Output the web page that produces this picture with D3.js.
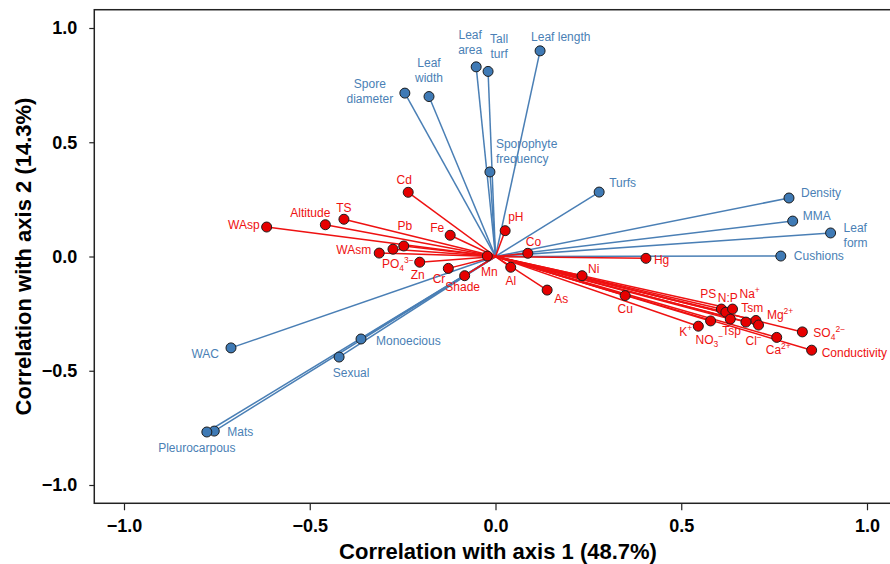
<!DOCTYPE html>
<html>
<head>
<meta charset="utf-8">
<script src="https://cdn.jsdelivr.net/npm/d3@7"></script>
<style>
  body { margin: 0; background: #fff; }
  svg { font-family: "Liberation Sans", Arial, sans-serif; }
</style>
</head>
<body>
<div id="chart"></div>
<script>
// Species traits (blue vectors)
const traitNames = ["Leaf length", "Tall\nturf", "Leaf\narea", "Leaf\nwidth", "Spore\ndiameter",
    "Sporophyte\nfrequency", "Turfs", "Density", "MMA", "Leaf\nform", "Cushions",
    "WAC", "Monoecious", "Sexual", "Mats", "Pleurocarpous"];
const traitX = [0.120, -0.020, -0.052, -0.179, -0.244, -0.015, 0.279, 0.790, 0.800, 0.902, 0.768,
    -0.712, -0.362, -0.421, -0.757, -0.777];
const traitY = [0.900, 0.810, 0.830, 0.700, 0.715, 0.370, 0.282, 0.256, 0.155, 0.103, 0.002,
    -0.400, -0.361, -0.440, -0.764, -0.768];

// Environmental variables (red vectors)
const envNames = ["Cd", "TS", "Altitude", "WAsp", "Pb", "Fe", "WAsm", "PO_4^3−", "Zn", "Cr",
    "Shade", "Mn", "Al", "pH", "Co", "Hg", "Ni", "As", "Cu", "PS", "N:P", "Na^+", "Tsm",
    "Mg^2+", "Tsp", "Cl^−", "K^+", "NO_3^−", "Ca^2+", "SO_4^2−", "Conductivity"];
const envX = [-0.235, -0.408, -0.458, -0.616, -0.247, -0.122, -0.313, -0.276, -0.204, -0.127,
    -0.083, -0.022, 0.041, 0.026, 0.087, 0.405, 0.233, 0.139, 0.349, 0.608, 0.620, 0.638, 0.632,
    0.701, 0.674, 0.708, 0.546, 0.579, 0.757, 0.826, 0.851];
const envY = [0.281, 0.163, 0.139, 0.129, 0.046, 0.093, 0.015, 0.032, -0.025, -0.052,
    -0.084, 0.002, -0.047, 0.113, 0.014, -0.008, -0.084, -0.147, -0.171, -0.230, -0.244, -0.230, -0.274,
    -0.280, -0.287, -0.300, -0.305, -0.282, -0.354, -0.330, -0.410];

const tickValues = [-1, -0.5, 0, 0.5, 1];

// label placement (pixels from the point): [dx, dy of first baseline, anchor]
const traitLabelPos = [[-9, -10, "start"], [11, -28, "middle"], [-6, -28, "middle"], [0, -30, "middle"],
    [-35, -5, "middle"], [6, -24, "start"], [10, -5, "start"], [12, -1, "start"], [10, -1, "start"],
    [13, -1, "start"], [13, 4, "start"], [-12, 10, "end"], [15, 6, "start"], [12, 20, "middle"],
    [13, 5, "start"], [-10, 20, "middle"]];
const envLabelPos = [[-4, -8, "middle"], [0, -7, "middle"], [-15, -8, "middle"], [-7, 2, "end"],
    [1, -16, "middle"], [-6, -3, "end"], [-8, 1, "end"], [-11, 19, "start"], [-2, 17, "middle"],
    [-3, 15, "end"], [-2, 15, "middle"], [2, 20, "middle"], [0, 18, "middle"], [3, -10, "start"],
    [-2, -7, "start"], [8, 6, "start"], [6, -3, "start"], [7, 13, "start"], [0, 17, "middle"],
    [-5, -11, "end"], [2, -10, "middle"], [7, -11, "start"], [11, -7, "start"], [11, -1, "start"],
    [-5, 13, "end"], [-13, 20, "start"], [-6, 10, "end"], [-15, 23, "start"], [-11, 17, "start"],
    [11, 5, "start"], [10, 7, "start"]];

const width = 890, height = 564;
const blue = "#4a7fb5", red = "#ee1111";

const x = d3.scaleLinear().domain([-1, 1]).range([124, 867]);
const y = d3.scaleLinear().domain([-1, 1]).range([485, 28]);

const svg = d3.select("#chart").append("svg")
    .attr("width", width)
    .attr("height", height);

// frame
svg.append("rect")
    .attr("x", x(-1.08)).attr("y", y(1.08))
    .attr("width", x(1.08) - x(-1.08)).attr("height", y(-1.08) - y(1.08))
    .attr("fill", "none").attr("stroke", "#222").attr("stroke-width", 1.5);

// axes
const xAxis = svg.append("g")
    .attr("transform", `translate(0,${y(-1.08)})`)
    .call(d3.axisBottom(x).tickValues(tickValues).tickFormat(d3.format(".1f")).tickSize(7).tickPadding(9));
const yAxis = svg.append("g")
    .attr("transform", `translate(${x(-1.08)},0)`)
    .call(d3.axisLeft(y).tickValues(tickValues).tickFormat(d3.format(".1f")).tickSize(5).tickPadding(12));

for (let ax of [xAxis, yAxis]) {
    ax.select(".domain").remove();
    ax.selectAll("line").attr("stroke", "#222").attr("stroke-width", 1.2);
    ax.selectAll("text")
        .attr("fill", "#000")
        .style("font-size", "18px")
        .style("font-weight", "bold")
        .style("font-family", "'Liberation Sans', Arial, sans-serif");
}

svg.append("text")
    .attr("x", 498).attr("y", 559)
    .attr("text-anchor", "middle")
    .style("font-size", "22px").style("font-weight", "bold")
    .text("Correlation with axis 1 (48.7%)");

svg.append("text")
    .attr("transform", `translate(31,${y(0)}) rotate(-90)`)
    .attr("text-anchor", "middle")
    .style("font-size", "22px").style("font-weight", "bold")
    .text("Correlation with axis 2 (14.3%)");

// build row objects from the arrays
const traits = traitNames.map((n, i) => ({ name: n, x: traitX[i], y: traitY[i], pos: traitLabelPos[i] }));
const envs = envNames.map((n, i) => ({ name: n, x: envX[i], y: envY[i], pos: envLabelPos[i] }));

function drawVectors(data, color, fill) {
    const g = svg.append("g");
    g.selectAll("line")
        .data(data)
        .enter()
        .append("line")
        .attr("x1", x(0)).attr("y1", y(0))
        .attr("x2", d => x(d.x)).attr("y2", d => y(d.y))
        .attr("stroke", color)
        .attr("stroke-width", 1.5);
    return g;
}

function drawDots(data, fill) {
    svg.append("g").selectAll("circle")
        .data(data)
        .enter()
        .append("circle")
        .attr("cx", d => x(d.x)).attr("cy", d => y(d.y))
        .attr("r", 5)
        .attr("fill", fill)
        .attr("stroke", "#1c1c1c")
        .attr("stroke-width", 1);
}

// Write a label; "_" starts a subscript, "^" a superscript, "\n" a new line
function drawLabels(data, color) {
    const g = svg.append("g").style("font-size", "12px").attr("fill", color);
    data.forEach(d => {
        const [dx, dy, anchor] = d.pos;
        const px = x(d.x) + dx, py = y(d.y) + dy;
        const text = g.append("text")
            .attr("x", px).attr("y", py)
            .attr("text-anchor", anchor);
        const lines = d.name.split("\n");
        if (lines.length > 1) {
            lines.forEach((l, i) => {
                text.append("tspan").attr("x", px).attr("y", py + i * 15).text(l);
            });
            return;
        }
        const m = d.name.match(/^([^_^]+)(?:_([^_^]+))?(?:\^(.+))?$/);
        text.append("tspan").text(m[1]);
        let shift = 0;
        if (m[2]) {
            text.append("tspan").attr("dy", 3).style("font-size", "8.5px").text(m[2]);
            shift = 3;
        }
        if (m[3]) {
            text.append("tspan").attr("dy", -5 - shift).style("font-size", "8.5px").text(m[3]);
        }
    });
}

drawVectors(traits, blue);
drawVectors(envs, red);
drawDots(traits, "#3f7ab5");
drawDots(envs, "#e60000");
drawLabels(traits, blue);
drawLabels(envs, red);
</script>
</body>
</html>
